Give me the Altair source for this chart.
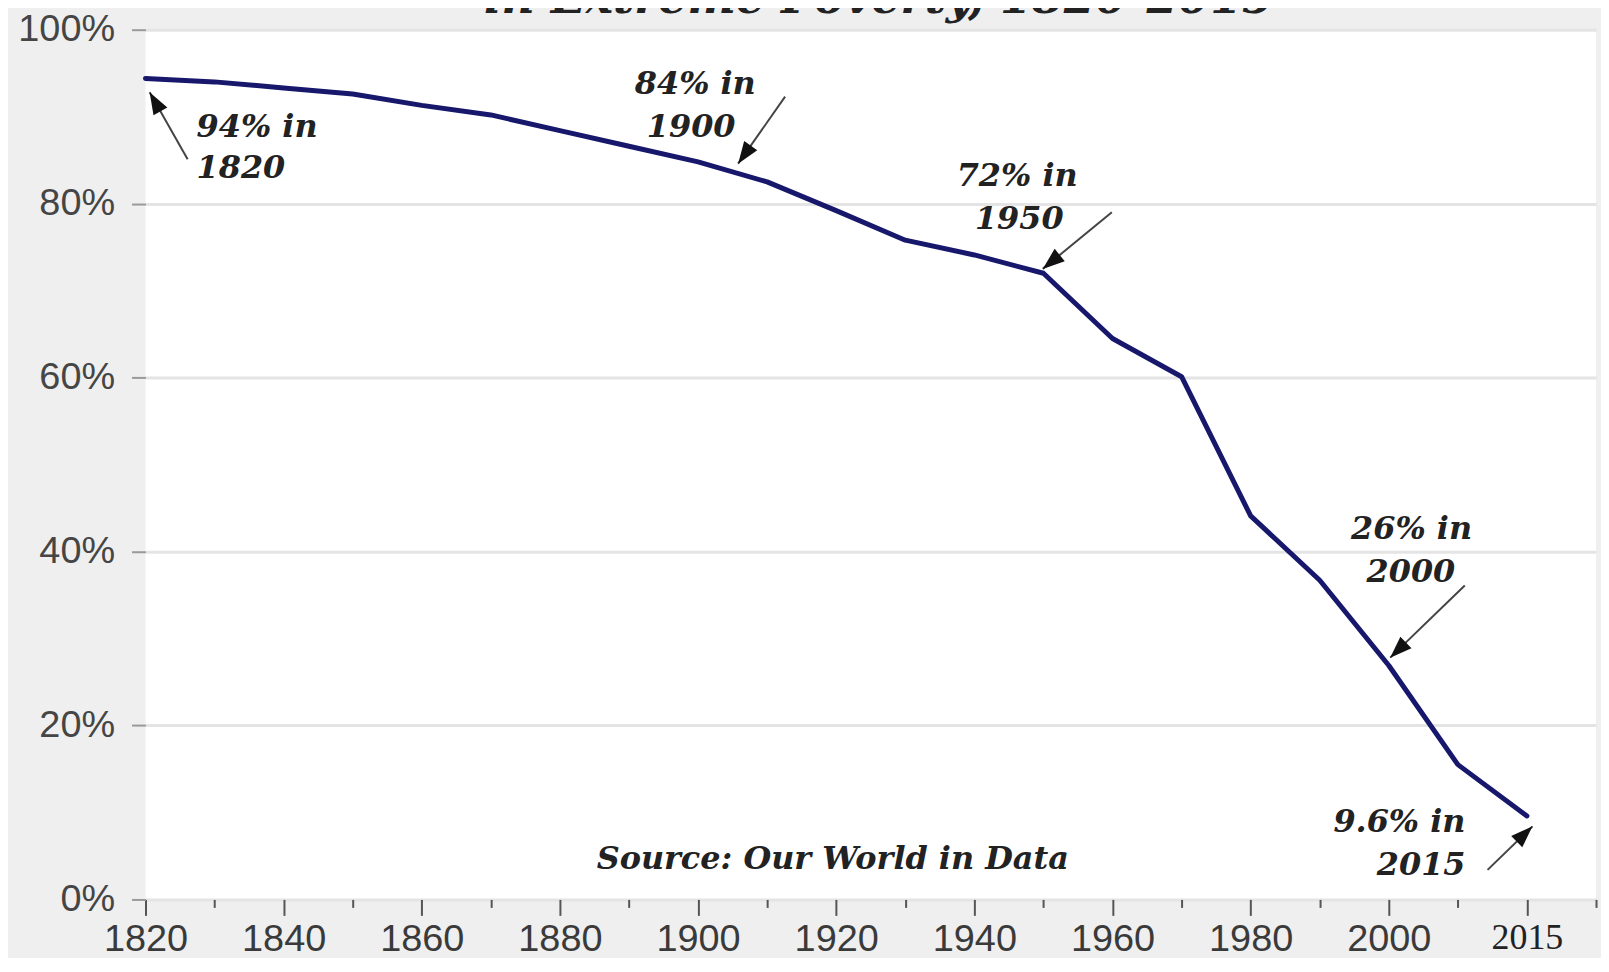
import math
import altair as alt
import pandas as pd

# ---- data ----
years = ["1820", "1830", "1840", "1850", "1860", "1870", "1880", "1890", "1900", "1910",
         "1920", "1930", "1940", "1950", "1960", "1970", "1980", "1990", "2000", "2010", "2015"]
share = [94.4, 94.0, 93.3, 92.6, 91.3, 90.2, 88.4, 86.6, 84.8, 82.5,
         79.2, 75.8, 74.1, 72.0, 64.5, 60.1, 44.1, 36.7, 26.9, 15.5, 9.6]

# labels shown on the evenly spaced category axis (one slot per tick)
tick_labels = ["1820", "", "1840", "", "1860", "", "1880", "", "1900", "", "1920", "",
               "1940", "", "1960", "", "1980", "", "2000", "", "2015", ""]
y_ticks = [0, 20, 40, 60, 80, 100]

# annotations (x in category-slot units, y in percent)
ann_text = ["94% in", "1820", "84% in", "1900", "72% in", "1950", "26% in", "2000",
            "9.6% in", "2015", "Source: Our World in Data"]
ann_x = [0.74, 0.74, 7.96, 7.9, 12.62, 12.65, 18.33, 18.32, 19.11, 19.11, 9.95]
ann_y = [88.8, 84.1, 93.7, 88.8, 83.2, 78.2, 42.6, 37.6, 8.9, 4.0, 4.6]
ann_align = ["left", "left", "center", "center", "center", "center", "center", "center",
             "right", "right", "center"]

arrow_tail_x = [0.61, 9.26, 13.99, 19.10, 19.43]
arrow_tail_y = [85.1, 92.3, 79.0, 36.1, 3.4]
arrow_tip_x = [0.06, 8.58, 12.99, 18.02, 20.08]
arrow_tip_y = [92.8, 84.6, 72.5, 27.8, 8.4]

# title line, only its lower edge shows at the top of the picture
title_text = ["in Extreme Poverty, 1820-2015"]
title_x = [10.62]
title_y = [101.95]

# ---- geometry ----
N_SLOTS = len(tick_labels) - 1
W = 1456
H = 873
px_x = W / N_SLOTS
px_y = H / 100.0

line_df = pd.DataFrame({"pos": list(range(len(years))), "year": years, "share": share})
ann_df = pd.DataFrame({"x": ann_x, "y": ann_y, "text": ann_text, "align": ann_align})
title_df = pd.DataFrame({"x": title_x, "y": title_y, "text": title_text})

angles = []
for tx, ty, hx, hy in zip(arrow_tail_x, arrow_tail_y, arrow_tip_x, arrow_tip_y):
    dx = (hx - tx) * px_x
    dy = -(hy - ty) * px_y
    angles.append(math.degrees(math.atan2(dx, -dy)) % 360)
arrow_df = pd.DataFrame({"x": arrow_tail_x, "y": arrow_tail_y, "x2": arrow_tip_x,
                         "y2": arrow_tip_y, "angle": angles})

xscale = alt.Scale(domain=[0, N_SLOTS], nice=False, zero=False)
yscale = alt.Scale(domain=[0, 100], nice=False, zero=True)

label_array = "[" + ",".join("'" + s + "'" for s in tick_labels) + "][datum.value]"

x_axis = alt.Axis(
    values=list(range(len(tick_labels))),
    labelExpr=label_array,
    title=None,
    grid=False,
    domain=False,
    tickColor="#555555",
    tickWidth=2,
    tickSize={"condition": {"test": "datum.value % 2 == 0", "value": 16}, "value": 8},
    labelPadding=5,
    labelFont={"condition": {"test": "datum.value == 20", "value": "Liberation Serif"},
               "value": "Liberation Sans"},
    labelFontSize={"condition": {"test": "datum.value == 20", "value": 36}, "value": 38},
    labelColor={"condition": {"test": "datum.value == 20", "value": "#222222"},
                "value": "#3a3a3a"},
    labelOverlap=False,
    labelFlush=False,
)
y_axis = alt.Axis(
    values=y_ticks,
    labelExpr="datum.value + '%'",
    title=None,
    domain=False,
    tickColor="#999999",
    tickWidth=2,
    tickSize=14,
    labelPadding=17,
    labelFont="Liberation Sans",
    labelFontSize=38,
    labelColor="#454545",
    gridColor="#e4e4e4",
    gridWidth=3,
    labelFlush=False,
)

line = alt.Chart(line_df).mark_line(
    color="#17176c", strokeWidth=5, strokeJoin="round", strokeCap="round"
).encode(
    x=alt.X("pos:Q", scale=xscale, axis=x_axis),
    y=alt.Y("share:Q", scale=yscale, axis=y_axis),
)

shafts = alt.Chart(arrow_df).mark_rule(color="#444444", strokeWidth=2).encode(
    x=alt.X("x:Q", scale=xscale, title=None),
    y=alt.Y("y:Q", scale=yscale, title=None),
    x2="x2:Q",
    y2="y2:Q",
)

heads = alt.Chart(arrow_df).mark_point(
    shape="M0,0L-0.8,2.2L0.8,2.2Z", filled=True, color="#111111", opacity=1, size=400
).encode(
    x=alt.X("x2:Q", scale=xscale, title=None),
    y=alt.Y("y2:Q", scale=yscale, title=None),
    angle=alt.Angle("angle:Q", scale=None),
)


def text_layer(align):
    return alt.Chart(ann_df).transform_filter(
        alt.datum.align == align
    ).mark_text(
        font="DejaVu Serif", fontSize=32, fontStyle="italic", fontWeight="bold",
        color="#222222", baseline="middle", align=align
    ).encode(
        x=alt.X("x:Q", scale=xscale, title=None),
        y=alt.Y("y:Q", scale=yscale, title=None),
        text="text:N",
    )


title = alt.Chart(title_df).mark_text(
    font="DejaVu Serif", fontSize=46, fontStyle="italic", fontWeight="bold",
    color="#222222", baseline="alphabetic", align="center"
).encode(
    x=alt.X("x:Q", scale=xscale, title=None),
    y=alt.Y("y:Q", scale=yscale, title=None),
    text="text:N",
)

chart = alt.layer(
    line, shafts, heads, text_layer("left"), text_layer("center"), text_layer("right"), title
).properties(
    width=W,
    height=H,
    autosize=alt.AutoSizeParams(type="none"),
    padding={"left": 138, "top": 20, "right": 5, "bottom": 57},
    background="#efefef",
).configure_view(fill="white", strokeWidth=0)

chart.save("out.html", embed_options={"renderer": "svg", "actions": False})
